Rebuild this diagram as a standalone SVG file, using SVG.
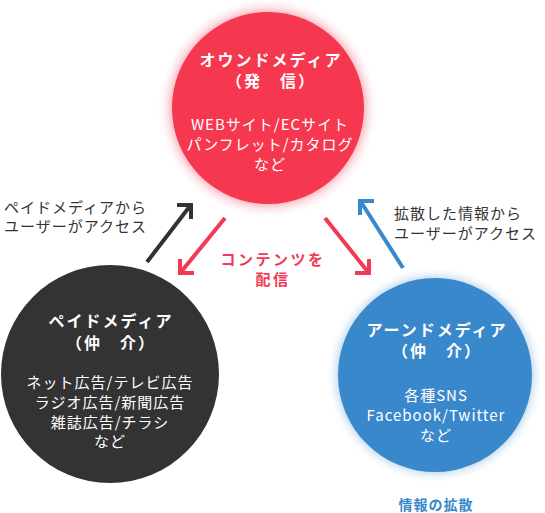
<svg xmlns="http://www.w3.org/2000/svg" width="545" height="513" viewBox="0 0 545 513">
<style>
text{font-family:"Noto Sans CJK JP","Noto Sans",sans-serif;}
.t{font-size:16px;font-weight:700;fill:#fff;text-anchor:middle;letter-spacing:2px}
.b{font-size:15px;font-weight:400;fill:#fff;text-anchor:middle;letter-spacing:1px}
.lab{font-size:15px;fill:#333;letter-spacing:1px}
.red{font-size:15px;font-weight:700;fill:#f23a55;text-anchor:middle;letter-spacing:2.5px}
.blu{font-size:14px;font-weight:700;fill:#3a88cc;text-anchor:middle;letter-spacing:1px}
.ar{fill:none;stroke-width:4;stroke-linejoin:miter;stroke-linecap:butt}
</style>
<defs>
<radialGradient id="gr">
<stop offset="0.86" stop-color="#f8bcc6"/>
<stop offset="1" stop-color="#ffffff" stop-opacity="0"/>
</radialGradient>
<radialGradient id="gb">
<stop offset="0.88" stop-color="#c4dcf0"/>
<stop offset="1" stop-color="#ffffff" stop-opacity="0"/>
</radialGradient>
</defs>
<g id="owned">
<circle cx="268" cy="108" r="111" fill="url(#gr)"/>
<circle cx="268" cy="108" r="96" fill="#f5384f"/>
<text class="t" x="271" y="66">オウンドメディア</text>
<text class="t" x="271" y="87">（発　信）</text>
<text class="b" x="270" y="130">WEBサイト/ECサイト</text>
<text class="b" x="270" y="150">パンフレット/カタログ</text>
<text class="b" x="270" y="170">など</text>
</g>
<g id="paid">
<circle cx="110" cy="374" r="109" fill="#333333"/>
<text class="t" x="111" y="327">ペイドメディア</text>
<text class="t" x="111" y="349">（仲　介）</text>
<text class="b" x="110" y="388">ネット広告/テレビ広告</text>
<text class="b" x="110" y="408">ラジオ広告/新聞広告</text>
<text class="b" x="110" y="428">雑誌広告/チラシ</text>
<text class="b" x="110" y="447">など</text>
</g>
<g id="earned">
<circle cx="435" cy="375" r="109" fill="url(#gb)"/>
<circle cx="435" cy="375" r="97" fill="#3a88cc"/>
<text class="t" x="437" y="336">アーンドメディア</text>
<text class="t" x="437" y="357">（仲　介）</text>
<text class="b" x="436" y="401">各種SNS</text>
<text class="b" x="436" y="421">Facebook/Twitter</text>
<text class="b" x="436" y="441">など</text>
<text class="blu" x="436" y="510">情報の拡散</text>
</g>
<g id="connectors">
<path class="ar" stroke="#333333" d="M147,262 L190,206 M177,205 H191 V219"/>
<path class="ar" stroke="#f23a55" d="M225,218 L181,272 M180,259 V273 H194"/>
<path class="ar" stroke="#f23a55" d="M325,218 L368,272 M355,273 H369 V259"/>
<path class="ar" stroke="#3a88cc" d="M403,268 L361,202 M374,201 H360 V215"/>
</g>
<g id="labels">
<text class="lab" x="4" y="213">ペイドメディアから</text>
<text class="lab" x="4" y="232">ユーザーがアクセス</text>
<text class="lab" x="394" y="219">拡散した情報から</text>
<text class="lab" x="394" y="239">ユーザーがアクセス</text>
<text class="red" x="273" y="265">コンテンツを</text>
<text class="red" x="273" y="285">配信</text>
</g>
</svg>
